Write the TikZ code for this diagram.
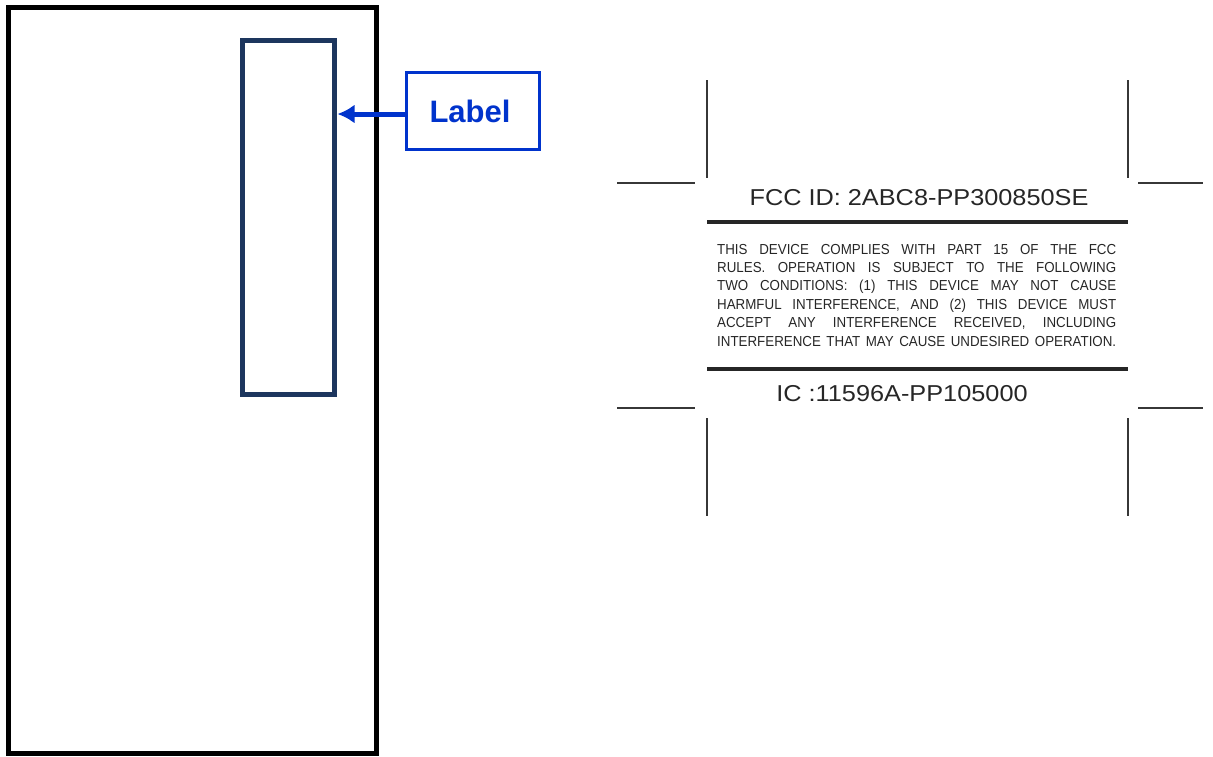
\documentclass[tikz,border=0pt]{standalone}
\usepackage{fontspec}
\setmainfont{Liberation Sans}
\newfontfamily\narrowfont[FakeStretch=0.92]{Liberation Sans}
\newfontfamily\widefont[FakeStretch=1.1]{Liberation Sans}
\usetikzlibrary{arrows.meta,positioning}
\definecolor{navy}{RGB}{29,54,94}
\definecolor{labelblue}{RGB}{0,51,204}
\definecolor{markgray}{RGB}{55,55,55}

\begin{document}
\begin{tikzpicture}[x=1pt,y=-1pt,
  device/.style={draw=black,line width=5pt},
  area/.style={draw=navy,line width=5pt,minimum width=92pt,minimum height=354pt,inner sep=0pt},
  labelbox/.style={draw=labelblue,line width=3pt,text=labelblue,font=\fontsize{31}{31}\selectfont\bfseries,
    minimum width=133pt,minimum height=77pt,inner sep=0pt},
  cropline/.style={draw=markgray,line width=1.4pt},
  bar/.style={draw=black!85,line width=3.5pt},
  idtext/.style={inner sep=0pt,text=black!85,font=\widefont\fontsize{23}{23}\selectfont},
  small/.style={anchor=base west,inner sep=0pt,text=black!85,font=\narrowfont\fontsize{14.5}{14.5}\selectfont}]
\useasboundingbox (0,0) rectangle (1213,756);
% device outline with label area
\draw[device] (8,7) rectangle (376,753);
\node[area] (area) at (288.5,217.5) {};
\node[labelbox] (lbl) at (473,111) {\hspace*{-6pt}Label};
\draw[labelblue,line width=5pt,-{Latex[length=17pt,width=19pt]}] ([yshift=-3pt]lbl.west) -- ([xshift=0.5pt,yshift=-3pt]lbl.west -| area.east);
% crop marks
\draw[cropline] (617,183) -- (695,183);
\draw[cropline] (1138,183) -- (1203,183);
\draw[cropline] (707,80) -- (707,178);
\draw[cropline] (1128,80) -- (1128,178);
\draw[cropline] (617,408) -- (695,408);
\draw[cropline] (1138,408) -- (1203,408);
\draw[cropline] (707,418) -- (707,516);
\draw[cropline] (1128,418) -- (1128,516);
% label artwork
\node[idtext] (fccid) at (919,198) {FCC ID: 2ABC8-PP300850SE};
\draw[bar] (707,222) -- (1128,222);
\node[small] (l1) at (717,254) {\makebox[399pt][s]{THIS DEVICE COMPLIES WITH PART 15 OF THE FCC}};
\node[small] (l2) at (717,272.4) {\makebox[399pt][s]{RULES. OPERATION IS SUBJECT TO THE FOLLOWING}};
\node[small] (l3) at (717,290.8) {\makebox[399pt][s]{TWO CONDITIONS: (1) THIS DEVICE MAY NOT CAUSE}};
\node[small] (l4) at (717,309.2) {\makebox[399pt][s]{HARMFUL INTERFERENCE, AND (2) THIS DEVICE MUST}};
\node[small] (l5) at (717,327.6) {\makebox[399pt][s]{ACCEPT ANY INTERFERENCE RECEIVED, INCLUDING}};
\node[small] (l6) at (717,346) {\makebox[399pt][s]{INTERFERENCE THAT MAY CAUSE UNDESIRED OPERATION.}};
\draw[bar] (707,369) -- (1128,369);
\node[idtext] (ic) at (902,393.5) {IC :11596A-PP105000};
\end{tikzpicture}
\end{document}
